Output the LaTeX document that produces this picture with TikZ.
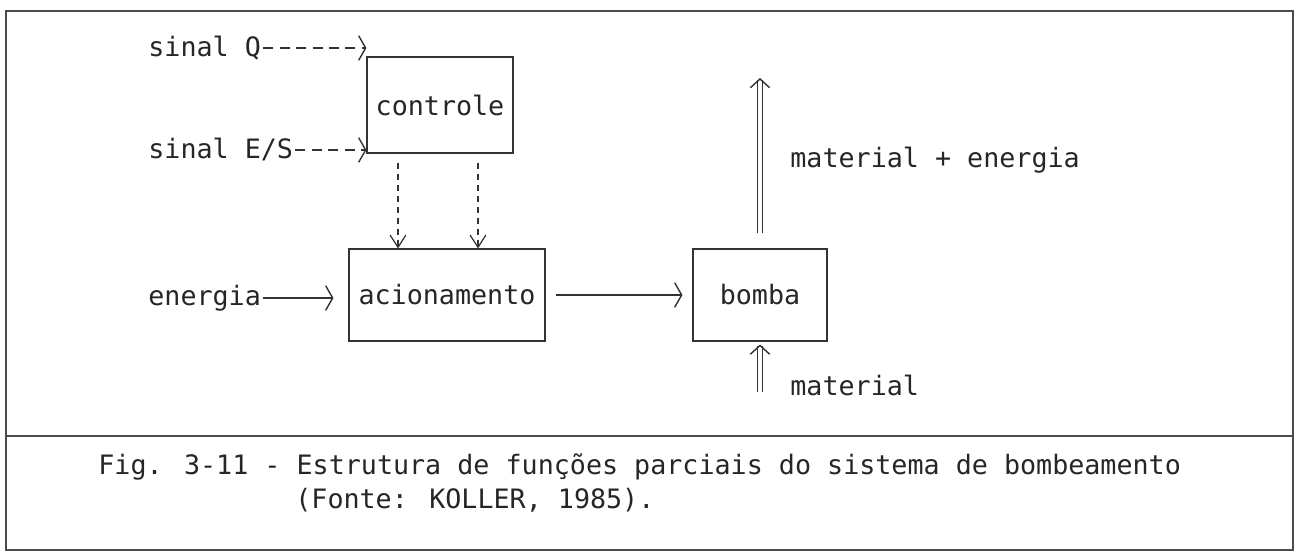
\documentclass[tikz,border=0pt]{standalone}
\usepackage{fontspec}
\setmainfont{DejaVu Sans Mono}
\usetikzlibrary{arrows.meta}

\begin{document}
\begin{tikzpicture}[x=0.02cm, y=-0.02cm, thin,
    every node/.style={font=\fontsize{15.2}{18}\selectfont, text=black!85},
    block/.style={draw=black!80, line width=0.6pt, inner sep=0pt},
    label/.style={inner sep=0pt, anchor=west},
    flow/.style={draw=black!80, line width=0.6pt, -{Straight Barb[length=4pt,width=14pt,line width=0.8pt]}},
    signal/.style={flow, dash pattern=on 0.2cm off 0.13cm},
    command/.style={draw=black!80, line width=0.6pt, dash pattern=on 0.12cm off 0.1cm,
        -{Straight Barb[length=7pt,width=9pt,line width=0.7pt]}},
    stream/.style={draw=black!80, line width=0.5pt, double, double distance=2.2pt,
        -{Straight Barb[length=5pt,width=11pt,line width=0.8pt]}}]
    \useasboundingbox (0,0) rectangle (1300,552);

    % frame
    \draw[black!70, line width=0.6pt] (6,11) rectangle (1293,550);
    \draw[black!70, line width=0.6pt] (6,436) -- (1293,436);

    % boxes
    \node[block, minimum width=2.92cm, minimum height=1.92cm] (controle) at (440,105) {controle};
    \node[block, minimum width=3.92cm, minimum height=1.84cm] (acionamento) at (447,295) {acionamento};
    \node[block, minimum width=2.68cm, minimum height=1.84cm] (bomba) at (760,295) {bomba};

    % labels
    \node[label] (sinalQ) at (148,48) {sinal Q};
    \node[label] (sinalES) at (148,150) {sinal E/S};
    \node[label] (energia) at (148,298) {energia};
    \node[label] (saida) at (790,160) {material + energia};
    \node[label] (entrada) at (790,385) {material};
    \coordinate (top) at (760,78);
    \coordinate (bottom) at (760,392);

    % signals
    \draw[signal] ([xshift=1pt]sinalQ.east) -- (sinalQ.east -| controle.west);
    \draw[signal] ([xshift=1pt]sinalES.east) -- (sinalES.east -| controle.west);
    \draw[command, shorten <=0.18cm] ([xshift=-0.84cm]controle.south) -- ([xshift=-0.84cm]controle.south |- acionamento.north);
    \draw[command, shorten <=0.18cm] ([xshift=0.76cm]controle.south) -- ([xshift=0.76cm]controle.south |- acionamento.north);

    % energy and material
    \draw[flow, shorten >=0.3cm] ([xshift=1pt]energia.east) -- (energia.east -| acionamento.west);
    \draw[flow, shorten <=0.2cm, shorten >=0.2cm] (acionamento.east) -- (bomba.west);
    \draw[stream, shorten <=0.3cm] (bomba.north) -- (top);
    \draw[stream, shorten >=0.06cm] (bottom) -- (bomba.south);

    % caption
    \node[label] (caption) at (98,467) {Fig. 3-11 - Estrutura de funções parciais do sistema de bombeamento};
    \node[label] (source) at (295,500) {(Fonte: KOLLER, 1985).};
\end{tikzpicture}
\end{document}
